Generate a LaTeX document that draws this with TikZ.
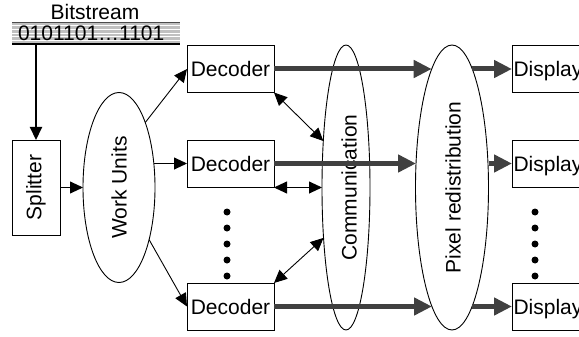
\documentclass[tikz,border=0pt]{standalone}
\usepackage{fontspec}
\setmainfont{Liberation Sans}
\usetikzlibrary{arrows.meta,shapes.geometric}
\definecolor{flowgray}{HTML}{404040}
\definecolor{tape}{HTML}{C0C0C0}

\begin{document}
\begin{tikzpicture}[x=1pt,y=-1pt,
  font=\fontsize{21}{25}\selectfont,
  box/.style={draw, line width=0.9pt, inner sep=0pt, outer sep=0pt,
              text height=15.2pt, text depth=0pt},
  ell/.style={draw, ellipse, line width=0.9pt, inner sep=0pt, outer sep=0pt},
  lbl/.style={inner sep=0pt},
  thin arrow/.style={line width=0.9pt, -{Triangle[length=13pt,width=12pt]}},
  two way/.style={line width=0.9pt,
              {Triangle[length=13pt,width=12pt]}-{Triangle[length=13pt,width=12pt]}},
  flow/.style={line width=5pt, draw=flowgray, -{Triangle[length=18pt,width=17pt]}},
  dot/.style={circle, fill=black, inner sep=0pt, minimum size=7pt}
]
\useasboundingbox (0,0) rectangle (579,337);
\clip (0,0) rectangle (579,337);

% bitstream tape
\node[lbl, text height=15.2pt, text depth=0pt] (bslabel) at (95,11.5) {Bitstream};
\node[fill=tape, minimum width=168pt, minimum height=22pt, outer sep=0pt,
      inner ysep=0pt, inner xsep=6pt, text width=156pt, align=left,
      text height=15.2pt, text depth=0pt,
      path picture={
        \foreach \d in {3.4,7.2,11,14.8,18.6}
          \draw[white, line width=0.7pt]
            ([yshift=-\d pt]path picture bounding box.north west) --
            ([yshift=-\d pt]path picture bounding box.north east);
      }] (bits) at (96,33) {0101101…1101};
\draw[line width=0.6pt, black!70] (bits.north west) -- (bits.north east);
\draw[line width=2pt] (bits.south west) -- (bits.south east);

% splitter and work units
\node[box, minimum width=48pt, minimum height=95pt] (split) at (36,187.5) {};
\node[rotate=90] at (split) {Splitter};
\node[ell, minimum width=72pt, minimum height=190pt] (wu) at (119,187.5) {};
\node[rotate=90] at (wu) {Work Units};

% decoders
\node[box, minimum width=87pt, minimum height=47pt] (dec1) at (230.5,69) {Decoder};
\node[box, minimum width=87pt, minimum height=47pt] (dec2) at (230.5,163.5) {Decoder};
\node[box, minimum width=87pt, minimum height=47pt] (dec3) at (230.5,306.5) {Decoder};

% communication and pixel redistribution stages
\node[ell, minimum width=48pt, minimum height=285pt] (comm) at (346,187.5) {};
\node[rotate=90] at (349,187.5) {Communication};
\node[ell, minimum width=73pt, minimum height=285pt] (pix) at (452,187.5) {};
\node[rotate=90] at (453,187.5) {Pixel redistribution};

% displays
\foreach \n/\y in {1/69, 2/163.5, 3/306.5}
  \node[box, minimum width=87pt, minimum height=47pt, inner xsep=1.5pt,
        text width=84pt, align=left] (disp\n) at (555.5,\y) {Display};

% ellipsis dots
\foreach \y in {212,228,244,260,276} {
  \node[dot] at (227,\y) {};
  \node[dot] at (535,\y) {};
}

% input connectors
\draw[line width=2pt, -{Triangle[length=13pt,width=12pt]}]
  (bits.south -| split.north) -- (split.north);
\draw[thin arrow] (split.east) -- (wu.west);
\coordinate (wumid) at (153.8,163.5);
\draw[thin arrow] (wu.68.5) -- (dec1.west);
\draw[thin arrow] (wumid) -- (dec2.west);
\draw[thin arrow] (wu.-60) -- (dec3.west);

% decoder exchanges
\draw[two way] (dec1.south east) -- (comm.116);
\draw[two way] (comm.west -| dec2.east) -- (comm.west);
\draw[two way] (dec3.north east) -- (comm.-114);

% pixel flow to displays
\coordinate (p1in) at (431.7,69);
\coordinate (p1out) at (472.3,69);
\coordinate (p2in) at (416,163.5);
\coordinate (p2out) at (488.5,163.5);
\coordinate (p3in) at (432,306.5);
\coordinate (p3out) at (472,306.5);
\foreach \n in {1,2,3} {
  \draw[flow] (dec\n.east) -- (p\n in);
  \draw[flow] (p\n out) -- (disp\n.west);
}
\end{tikzpicture}
\end{document}
